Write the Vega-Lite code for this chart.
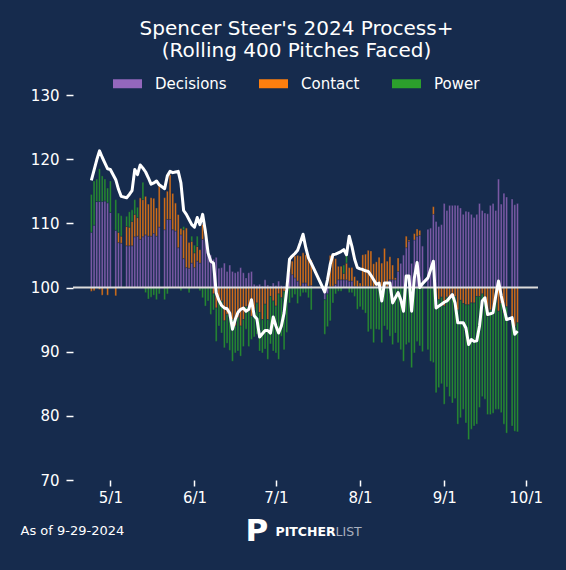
{
  "$schema": "https://vega.github.io/schema/vega-lite/v6.json",
  "width": 465,
  "height": 385,
  "autosize": {"type": "none"},
  "padding": {"left": 73, "top": 95, "right": 28, "bottom": 90},
  "background": "#162b4d",
  "title": {
    "text": ["Spencer Steer's 2024 Process+", "(Rolling 400 Pitches Faced)"],
    "color": "white",
    "font": "DejaVu Sans",
    "fontSize": 20,
    "fontWeight": "normal",
    "lineHeight": 22,
    "anchor": "middle",
    "dx": -9,
    "offset": 8
  },
  "datasets": {
    "steer": [
      {"date": "2024-04-24", "Decisions": 8.6, "Contact": -0.6, "Power": 5.9, "ProcessPlus": 116.7},
      {"date": "2024-04-25", "Decisions": 9.7, "Contact": -0.5, "Power": 6.9, "ProcessPlus": 118.3},
      {"date": "2024-04-26", "Decisions": 13.4, "Contact": 0.0, "Power": 3.5, "ProcessPlus": 119.9},
      {"date": "2024-04-27", "Decisions": 13.4, "Contact": -0.3, "Power": 5.1, "ProcessPlus": 121.3},
      {"date": "2024-04-28", "Decisions": 13.4, "Contact": -1.2, "Power": 4.0, "ProcessPlus": 120.3},
      {"date": "2024-04-29", "Decisions": 13.5, "Contact": 0.0, "Power": 3.4, "ProcessPlus": 119.4},
      {"date": "2024-04-30", "Decisions": 13.2, "Contact": -1.2, "Power": 2.3, "ProcessPlus": 118.5},
      {"date": "2024-05-01", "Decisions": 11.7, "Contact": 0.0, "Power": 4.9, "ProcessPlus": 118.4},
      {"date": "2024-05-03", "Decisions": 8.9, "Contact": -1.3, "Power": 4.8, "ProcessPlus": 116.8},
      {"date": "2024-05-04", "Decisions": 7.0, "Contact": 1.6, "Power": 3.0, "ProcessPlus": 115.3},
      {"date": "2024-05-05", "Decisions": 6.9, "Contact": 1.1, "Power": 3.2, "ProcessPlus": 114.2},
      {"date": "2024-05-07", "Decisions": 6.5, "Contact": 3.0, "Power": 1.6, "ProcessPlus": 114.0},
      {"date": "2024-05-08", "Decisions": 6.5, "Contact": 2.9, "Power": 2.4, "ProcessPlus": 114.5},
      {"date": "2024-05-09", "Decisions": 6.5, "Contact": 3.8, "Power": 1.8, "ProcessPlus": 115.1},
      {"date": "2024-05-10", "Decisions": 7.9, "Contact": 3.5, "Power": 2.3, "ProcessPlus": 118.4},
      {"date": "2024-05-11", "Decisions": 8.0, "Contact": 2.9, "Power": 1.6, "ProcessPlus": 117.6},
      {"date": "2024-05-12", "Decisions": 7.5, "Contact": 6.5, "Power": 0.0, "ProcessPlus": 119.1},
      {"date": "2024-05-13", "Decisions": 7.9, "Contact": 5.8, "Power": 2.7, "ProcessPlus": 118.6},
      {"date": "2024-05-14", "Decisions": 8.2, "Contact": 6.0, "Power": -0.8, "ProcessPlus": 118.0},
      {"date": "2024-05-15", "Decisions": 8.0, "Contact": 5.0, "Power": -1.8, "ProcessPlus": 117.1},
      {"date": "2024-05-16", "Decisions": 8.0, "Contact": 6.0, "Power": -1.5, "ProcessPlus": 116.1},
      {"date": "2024-05-17", "Decisions": 8.4, "Contact": 5.5, "Power": -1.2, "ProcessPlus": 116.3},
      {"date": "2024-05-18", "Decisions": 8.0, "Contact": 4.4, "Power": -1.9, "ProcessPlus": 116.6},
      {"date": "2024-05-19", "Decisions": 9.4, "Contact": 6.5, "Power": -1.0, "ProcessPlus": 116.0},
      {"date": "2024-05-21", "Decisions": 9.0, "Contact": 5.0, "Power": -1.9, "ProcessPlus": 115.4},
      {"date": "2024-05-22", "Decisions": 10.6, "Contact": 4.4, "Power": -1.0, "ProcessPlus": 117.4},
      {"date": "2024-05-23", "Decisions": 10.6, "Contact": 7.0, "Power": 0.0, "ProcessPlus": 118.1},
      {"date": "2024-05-24", "Decisions": 9.0, "Contact": 5.7, "Power": 0.0, "ProcessPlus": 117.9},
      {"date": "2024-05-25", "Decisions": 8.8, "Contact": 4.4, "Power": 0.0, "ProcessPlus": 118.0},
      {"date": "2024-05-26", "Decisions": 6.2, "Contact": 5.2, "Power": 0.0, "ProcessPlus": 118.1},
      {"date": "2024-05-27", "Decisions": 8.2, "Contact": 1.0, "Power": -0.5, "ProcessPlus": 116.3},
      {"date": "2024-05-28", "Decisions": 4.5, "Contact": 4.5, "Power": 0.5, "ProcessPlus": 112.0},
      {"date": "2024-05-29", "Decisions": 3.1, "Contact": 6.2, "Power": 0.0, "ProcessPlus": 111.4},
      {"date": "2024-05-30", "Decisions": 3.0, "Contact": 4.0, "Power": -0.8, "ProcessPlus": 110.6},
      {"date": "2024-05-31", "Decisions": 3.8, "Contact": 3.4, "Power": 0.8, "ProcessPlus": 109.8},
      {"date": "2024-06-01", "Decisions": 3.1, "Contact": 2.3, "Power": 1.2, "ProcessPlus": 109.4},
      {"date": "2024-06-02", "Decisions": 4.1, "Contact": 2.3, "Power": 1.6, "ProcessPlus": 110.9},
      {"date": "2024-06-03", "Decisions": 3.8, "Contact": 2.1, "Power": -0.5, "ProcessPlus": 109.8},
      {"date": "2024-06-04", "Decisions": 7.5, "Contact": 2.3, "Power": -1.6, "ProcessPlus": 111.4},
      {"date": "2024-06-05", "Decisions": 7.7, "Contact": 0.0, "Power": -2.9, "ProcessPlus": 108.8},
      {"date": "2024-06-06", "Decisions": 6.2, "Contact": 0.0, "Power": -2.1, "ProcessPlus": 105.4},
      {"date": "2024-06-07", "Decisions": 5.1, "Contact": 0.0, "Power": -4.2, "ProcessPlus": 104.1},
      {"date": "2024-06-08", "Decisions": 4.4, "Contact": -1.0, "Power": -2.5, "ProcessPlus": 103.8},
      {"date": "2024-06-09", "Decisions": 4.7, "Contact": -3.2, "Power": -5.2, "ProcessPlus": 99.2},
      {"date": "2024-06-10", "Decisions": 3.0, "Contact": -1.5, "Power": -4.5, "ProcessPlus": 98.0},
      {"date": "2024-06-11", "Decisions": 3.1, "Contact": -2.1, "Power": -5.0, "ProcessPlus": 97.2},
      {"date": "2024-06-12", "Decisions": 3.8, "Contact": -5.2, "Power": -4.2, "ProcessPlus": 96.8},
      {"date": "2024-06-13", "Decisions": 2.5, "Contact": -4.2, "Power": -4.5, "ProcessPlus": 96.7},
      {"date": "2024-06-14", "Decisions": 3.5, "Contact": -4.8, "Power": -5.0, "ProcessPlus": 96.0},
      {"date": "2024-06-15", "Decisions": 2.5, "Contact": -5.0, "Power": -6.5, "ProcessPlus": 93.5},
      {"date": "2024-06-16", "Decisions": 2.3, "Contact": -6.0, "Power": -4.2, "ProcessPlus": 95.0},
      {"date": "2024-06-17", "Decisions": 2.5, "Contact": -4.7, "Power": -5.2, "ProcessPlus": 96.1},
      {"date": "2024-06-18", "Decisions": 3.1, "Contact": -6.0, "Power": -4.7, "ProcessPlus": 96.6},
      {"date": "2024-06-19", "Decisions": 2.3, "Contact": -5.0, "Power": -4.2, "ProcessPlus": 96.8},
      {"date": "2024-06-20", "Decisions": 1.5, "Contact": -3.0, "Power": -3.5, "ProcessPlus": 96.3},
      {"date": "2024-06-21", "Decisions": 2.3, "Contact": -3.7, "Power": -5.5, "ProcessPlus": 96.6},
      {"date": "2024-06-22", "Decisions": 2.5, "Contact": -4.5, "Power": -3.6, "ProcessPlus": 98.1},
      {"date": "2024-06-23", "Decisions": 0.5, "Contact": -3.4, "Power": -4.3, "ProcessPlus": 95.6},
      {"date": "2024-06-24", "Decisions": 0.3, "Contact": -2.4, "Power": -4.9, "ProcessPlus": 95.1},
      {"date": "2024-06-25", "Decisions": 0.5, "Contact": -3.9, "Power": -6.0, "ProcessPlus": 92.3},
      {"date": "2024-06-26", "Decisions": 0.2, "Contact": -5.0, "Power": -5.2, "ProcessPlus": 92.8},
      {"date": "2024-06-27", "Decisions": 1.2, "Contact": -2.6, "Power": -7.0, "ProcessPlus": 93.3},
      {"date": "2024-06-28", "Decisions": 0.4, "Contact": -5.0, "Power": -6.2, "ProcessPlus": 93.3},
      {"date": "2024-06-29", "Decisions": 0.2, "Contact": -1.4, "Power": -7.4, "ProcessPlus": 92.9},
      {"date": "2024-06-30", "Decisions": 0.7, "Contact": -2.1, "Power": -7.8, "ProcessPlus": 95.4},
      {"date": "2024-07-01", "Decisions": 0.3, "Contact": -2.9, "Power": -7.3, "ProcessPlus": 94.0},
      {"date": "2024-07-02", "Decisions": 1.0, "Contact": -1.0, "Power": -10.2, "ProcessPlus": 92.9},
      {"date": "2024-07-03", "Decisions": 0.3, "Contact": -1.6, "Power": -6.0, "ProcessPlus": 94.0},
      {"date": "2024-07-04", "Decisions": 0.2, "Contact": -0.6, "Power": -9.1, "ProcessPlus": 96.0},
      {"date": "2024-07-05", "Decisions": 0.5, "Contact": 0.3, "Power": -7.0, "ProcessPlus": 99.7},
      {"date": "2024-07-06", "Decisions": 2.3, "Contact": 2.3, "Power": -2.4, "ProcessPlus": 104.4},
      {"date": "2024-07-07", "Decisions": 2.0, "Contact": 2.1, "Power": -1.6, "ProcessPlus": 104.9},
      {"date": "2024-07-08", "Decisions": 1.5, "Contact": 3.4, "Power": -1.1, "ProcessPlus": 105.3},
      {"date": "2024-07-09", "Decisions": 1.0, "Contact": 4.0, "Power": -2.5, "ProcessPlus": 105.8},
      {"date": "2024-07-10", "Decisions": 0.2, "Contact": 4.7, "Power": -1.4, "ProcessPlus": 107.0},
      {"date": "2024-07-11", "Decisions": 0.7, "Contact": 4.7, "Power": -0.8, "ProcessPlus": 108.3},
      {"date": "2024-07-12", "Decisions": 0.7, "Contact": 4.4, "Power": -0.8, "ProcessPlus": 106.2},
      {"date": "2024-07-13", "Decisions": 0.2, "Contact": 4.2, "Power": -1.6, "ProcessPlus": 104.6},
      {"date": "2024-07-14", "Decisions": 0.3, "Contact": 4.0, "Power": -3.5, "ProcessPlus": 103.8},
      {"date": "2024-07-19", "Decisions": -1.9, "Contact": 0.0, "Power": -5.4, "ProcessPlus": 99.3},
      {"date": "2024-07-20", "Decisions": -1.0, "Contact": 0.0, "Power": -5.1, "ProcessPlus": 101.2},
      {"date": "2024-07-21", "Decisions": 0.1, "Contact": 4.9, "Power": -5.2, "ProcessPlus": 103.6},
      {"date": "2024-07-22", "Decisions": 0.2, "Contact": 5.1, "Power": -2.4, "ProcessPlus": 105.1},
      {"date": "2024-07-23", "Decisions": 0.5, "Contact": 4.0, "Power": -1.0, "ProcessPlus": 105.2},
      {"date": "2024-07-24", "Decisions": 1.2, "Contact": 2.1, "Power": -0.6, "ProcessPlus": 105.4},
      {"date": "2024-07-25", "Decisions": 1.2, "Contact": 2.1, "Power": -0.6, "ProcessPlus": 105.6},
      {"date": "2024-07-26", "Decisions": 1.2, "Contact": 1.0, "Power": 1.3, "ProcessPlus": 105.9},
      {"date": "2024-07-27", "Decisions": 1.2, "Contact": 2.6, "Power": 1.2, "ProcessPlus": 105.1},
      {"date": "2024-07-28", "Decisions": 1.0, "Contact": 2.1, "Power": -0.8, "ProcessPlus": 108.0},
      {"date": "2024-07-29", "Decisions": 1.0, "Contact": 2.1, "Power": -0.8, "ProcessPlus": 106.4},
      {"date": "2024-07-30", "Decisions": 0.2, "Contact": 1.5, "Power": -1.4, "ProcessPlus": 104.4},
      {"date": "2024-07-31", "Decisions": 0.1, "Contact": 1.0, "Power": -3.4, "ProcessPlus": 103.1},
      {"date": "2024-08-01", "Decisions": 0.2, "Contact": 0.5, "Power": -3.0, "ProcessPlus": 102.9},
      {"date": "2024-08-02", "Decisions": 0.1, "Contact": 5.0, "Power": -3.5, "ProcessPlus": 102.8},
      {"date": "2024-08-03", "Decisions": 0.2, "Contact": 5.0, "Power": -4.0, "ProcessPlus": 102.6},
      {"date": "2024-08-04", "Decisions": 0.1, "Contact": 5.7, "Power": -6.9, "ProcessPlus": 102.5},
      {"date": "2024-08-05", "Decisions": 0.2, "Contact": 5.5, "Power": -6.5, "ProcessPlus": 101.9},
      {"date": "2024-08-06", "Decisions": 0.1, "Contact": 3.6, "Power": -8.6, "ProcessPlus": 101.2},
      {"date": "2024-08-07", "Decisions": 0.2, "Contact": 3.8, "Power": -6.5, "ProcessPlus": 100.5},
      {"date": "2024-08-08", "Decisions": 0.1, "Contact": 4.6, "Power": -6.6, "ProcessPlus": 100.7},
      {"date": "2024-08-09", "Decisions": 0.2, "Contact": 3.6, "Power": -8.6, "ProcessPlus": 97.9},
      {"date": "2024-08-10", "Decisions": 0.3, "Contact": 5.8, "Power": -6.0, "ProcessPlus": 100.7},
      {"date": "2024-08-11", "Decisions": 0.1, "Contact": 4.0, "Power": -6.6, "ProcessPlus": 100.7},
      {"date": "2024-08-12", "Decisions": 1.2, "Contact": 3.6, "Power": -7.6, "ProcessPlus": 100.7},
      {"date": "2024-08-13", "Decisions": 1.2, "Contact": 2.3, "Power": -8.9, "ProcessPlus": 97.6},
      {"date": "2024-08-14", "Decisions": 1.2, "Contact": 0.3, "Power": -7.1, "ProcessPlus": 98.4},
      {"date": "2024-08-15", "Decisions": 2.5, "Contact": 2.1, "Power": -8.6, "ProcessPlus": 99.2},
      {"date": "2024-08-16", "Decisions": 3.8, "Contact": 0.0, "Power": -9.7, "ProcessPlus": 98.1},
      {"date": "2024-08-17", "Decisions": 5.1, "Contact": 0.0, "Power": -11.5, "ProcessPlus": 96.3},
      {"date": "2024-08-18", "Decisions": 6.2, "Contact": 1.8, "Power": -8.9, "ProcessPlus": 101.8},
      {"date": "2024-08-19", "Decisions": 7.2, "Contact": 0.2, "Power": -8.6, "ProcessPlus": 101.8},
      {"date": "2024-08-20", "Decisions": 3.8, "Contact": 0.0, "Power": -12.5, "ProcessPlus": 96.3},
      {"date": "2024-08-21", "Decisions": 7.4, "Contact": 1.0, "Power": -10.2, "ProcessPlus": 101.5},
      {"date": "2024-08-22", "Decisions": 8.0, "Contact": 1.1, "Power": -8.4, "ProcessPlus": 103.9},
      {"date": "2024-08-23", "Decisions": 8.1, "Contact": 0.8, "Power": -9.1, "ProcessPlus": 100.0},
      {"date": "2024-08-24", "Decisions": 6.5, "Contact": 0.0, "Power": -10.0, "ProcessPlus": 100.6},
      {"date": "2024-08-26", "Decisions": 9.1, "Contact": 0.0, "Power": -9.7, "ProcessPlus": 101.5},
      {"date": "2024-08-27", "Decisions": 9.3, "Contact": 0.0, "Power": -11.5, "ProcessPlus": 102.8},
      {"date": "2024-08-28", "Decisions": 11.4, "Contact": 1.2, "Power": -11.7, "ProcessPlus": 104.1},
      {"date": "2024-08-29", "Decisions": 10.3, "Contact": -1.9, "Power": -14.5, "ProcessPlus": 96.8},
      {"date": "2024-08-30", "Decisions": 9.5, "Contact": -1.9, "Power": -13.7, "ProcessPlus": 97.1},
      {"date": "2024-08-31", "Decisions": 9.8, "Contact": -1.5, "Power": -13.5, "ProcessPlus": 97.4},
      {"date": "2024-09-01", "Decisions": 13.1, "Contact": -2.9, "Power": -15.3, "ProcessPlus": 97.7},
      {"date": "2024-09-02", "Decisions": 12.0, "Contact": -1.5, "Power": -14.0, "ProcessPlus": 97.9},
      {"date": "2024-09-03", "Decisions": 12.8, "Contact": -1.4, "Power": -15.6, "ProcessPlus": 98.4},
      {"date": "2024-09-04", "Decisions": 12.8, "Contact": -0.9, "Power": -17.1, "ProcessPlus": 98.9},
      {"date": "2024-09-05", "Decisions": 12.8, "Contact": -1.4, "Power": -15.9, "ProcessPlus": 97.6},
      {"date": "2024-09-06", "Decisions": 12.8, "Contact": -3.5, "Power": -17.8, "ProcessPlus": 94.5},
      {"date": "2024-09-07", "Decisions": 12.4, "Contact": -2.0, "Power": -18.3, "ProcessPlus": 94.5},
      {"date": "2024-09-08", "Decisions": 11.4, "Contact": -2.5, "Power": -16.5, "ProcessPlus": 94.5},
      {"date": "2024-09-09", "Decisions": 11.9, "Contact": -2.7, "Power": -18.4, "ProcessPlus": 93.7},
      {"date": "2024-09-10", "Decisions": 11.8, "Contact": -2.7, "Power": -21.0, "ProcessPlus": 91.1},
      {"date": "2024-09-11", "Decisions": 11.4, "Contact": -2.4, "Power": -19.7, "ProcessPlus": 91.9},
      {"date": "2024-09-12", "Decisions": 10.9, "Contact": -2.4, "Power": -19.2, "ProcessPlus": 91.6},
      {"date": "2024-09-13", "Decisions": 11.4, "Contact": -1.4, "Power": -19.9, "ProcessPlus": 91.7},
      {"date": "2024-09-14", "Decisions": 13.1, "Contact": -1.4, "Power": -17.3, "ProcessPlus": 94.0},
      {"date": "2024-09-15", "Decisions": 12.0, "Contact": -1.0, "Power": -16.0, "ProcessPlus": 97.9},
      {"date": "2024-09-16", "Decisions": 11.6, "Contact": -1.5, "Power": -15.9, "ProcessPlus": 98.4},
      {"date": "2024-09-17", "Decisions": 11.5, "Contact": -4.5, "Power": -15.3, "ProcessPlus": 95.8},
      {"date": "2024-09-18", "Decisions": 12.8, "Contact": -3.5, "Power": -16.3, "ProcessPlus": 95.9},
      {"date": "2024-09-19", "Decisions": 13.1, "Contact": -3.7, "Power": -15.9, "ProcessPlus": 96.1},
      {"date": "2024-09-20", "Decisions": 12.0, "Contact": -2.0, "Power": -17.0, "ProcessPlus": 98.7},
      {"date": "2024-09-21", "Decisions": 16.9, "Contact": -3.7, "Power": -15.3, "ProcessPlus": 101.0},
      {"date": "2024-09-22", "Decisions": 13.0, "Contact": -2.5, "Power": -17.0, "ProcessPlus": 98.7},
      {"date": "2024-09-23", "Decisions": 14.7, "Contact": -4.0, "Power": -17.3, "ProcessPlus": 96.8},
      {"date": "2024-09-24", "Decisions": 14.1, "Contact": -3.0, "Power": -19.7, "ProcessPlus": 95.0},
      {"date": "2024-09-26", "Decisions": 13.8, "Contact": -4.8, "Power": -16.8, "ProcessPlus": 95.3},
      {"date": "2024-09-27", "Decisions": 12.9, "Contact": -6.1, "Power": -16.3, "ProcessPlus": 92.7},
      {"date": "2024-09-28", "Decisions": 13.1, "Contact": -5.5, "Power": -17.0, "ProcessPlus": 93.2}
    ]
  },
  "data": {"name": "steer"},
  "layer": [
    {
      "layer": [
        {
          "transform": [
            {"fold": ["Decisions", "Contact", "Power"], "as": ["component", "value"]},
            {"window": [{"op": "row_number", "as": "stack_rank"}], "groupby": ["date"]}
          ],
          "mark": {"type": "bar", "width": 1.8, "stroke": "#162b4d", "strokeWidth": 0.4, "opacity": 0.88},
          "encoding": {
            "x": {
              "field": "date",
              "type": "temporal",
              "scale": {
                "type": "utc",
                "domain": [
                  {"year": 2024, "month": 4, "date": 19, "hours": 2, "utc": true},
                  {"year": 2024, "month": 10, "date": 3, "hours": 17, "utc": true}
                ]
              },
              "axis": {
                "orient": "bottom",
                "values": [
                  {"year": 2024, "month": 5, "date": 1, "utc": true},
                  {"year": 2024, "month": 6, "date": 1, "utc": true},
                  {"year": 2024, "month": 7, "date": 1, "utc": true},
                  {"year": 2024, "month": 8, "date": 1, "utc": true},
                  {"year": 2024, "month": 9, "date": 1, "utc": true},
                  {"year": 2024, "month": 10, "date": 1, "utc": true}
                ],
                "labelExpr": "utcFormat(datum.value, '%-m/%-d')",
                "tickSize": 6,
                "labelPadding": 4,
                "title": "As of 9-29-2024",
                "titleX": -53,
                "titleY": 54,
                "titleAlign": "left",
                "titleBaseline": "alphabetic",
                "titleFontSize": 13,
                "titleFontWeight": "normal"
              }
            },
            "y": {
              "field": "value",
              "type": "quantitative",
              "stack": "zero",
              "scale": {"domain": [-30, 30], "nice": false, "zero": false},
              "axis": {
                "orient": "right",
                "labels": false,
                "ticks": false,
                "title": "PITCHER",
                "titleAngle": 0,
                "titleX": -263,
                "titleY": 440,
                "titleAlign": "left",
                "titleBaseline": "alphabetic",
                "titleFontSize": 12.5,
                "titleFontWeight": "bold"
              }
            },
            "order": {"field": "stack_rank", "type": "quantitative", "sort": "ascending"},
            "color": {
              "field": "component",
              "type": "nominal",
              "scale": {
                "domain": ["Decisions", "Contact", "Power"],
                "range": ["#9467bd", "#ff7f0e", "#2ca02c"]
              },
              "legend": {
                "orient": "none",
                "legendX": 40,
                "legendY": -26,
                "direction": "horizontal",
                "title": null,
                "padding": 0,
                "values": ["Decisions", "Contact", "Power"],
                "symbolType": "M-1,-0.31H1V0.31H-1Z",
                "symbolSize": 841,
                "symbolStrokeWidth": 0,
                "symbolOpacity": 1,
                "labelOffset": 13,
                "columnPadding": 32,
                "labelFontSize": 15,
                "labelColor": "white",
                "labelFont": "DejaVu Sans"
              }
            }
          }
        },
        {
          "data": {"values": [{}]},
          "mark": {"type": "rule", "color": "#dcdcdc", "strokeWidth": 2},
          "encoding": {
            "y": {
              "datum": 0,
              "type": "quantitative",
              "scale": {"domain": [-30, 30], "nice": false, "zero": false},
              "axis": {
                "orient": "right",
                "labels": false,
                "ticks": false,
                "title": "PITCHER",
                "titleAngle": 0,
                "titleX": -263,
                "titleY": 440,
                "titleAlign": "left",
                "titleBaseline": "alphabetic",
                "titleFontSize": 12.5,
                "titleFontWeight": "bold"
              }
            }
          }
        }
      ]
    },
    {
      "mark": {"type": "line", "color": "white", "strokeWidth": 3, "strokeJoin": "round"},
      "encoding": {
        "x": {
          "field": "date",
          "type": "temporal",
          "scale": {
            "type": "utc",
            "domain": [
              {"year": 2024, "month": 4, "date": 19, "hours": 2, "utc": true},
              {"year": 2024, "month": 10, "date": 3, "hours": 17, "utc": true}
            ]
          },
          "axis": {
            "orient": "top",
            "labels": false,
            "ticks": false,
            "title": "P",
            "titleX": 172,
            "titleY": 445,
            "titleAlign": "left",
            "titleBaseline": "alphabetic",
            "titleFontSize": 31,
            "titleFontWeight": "bold"
          }
        },
        "y": {
          "field": "ProcessPlus",
          "type": "quantitative",
          "scale": {"domain": [70, 130], "nice": false, "zero": false},
          "axis": {
            "orient": "left",
            "values": [70, 80, 90, 100, 110, 120, 130],
            "tickSize": 7,
            "labelPadding": 7,
            "title": "LIST",
            "titleAngle": 0,
            "titleX": 262,
            "titleY": 440,
            "titleAlign": "left",
            "titleBaseline": "alphabetic",
            "titleFontSize": 12.5,
            "titleFontWeight": "normal",
            "titleColor": "#a9b0bf"
          }
        }
      }
    }
  ],
  "resolve": {
    "scale": {"y": "independent"},
    "axis": {"x": "independent", "y": "independent"}
  },
  "config": {
    "font": "DejaVu Sans",
    "view": {"stroke": null},
    "axis": {
      "domain": false,
      "grid": false,
      "tickColor": "white",
      "tickWidth": 1.5,
      "labelColor": "white",
      "labelFontSize": 15,
      "labelFont": "DejaVu Sans",
      "titleColor": "white",
      "titleFont": "DejaVu Sans"
    }
  }
}
